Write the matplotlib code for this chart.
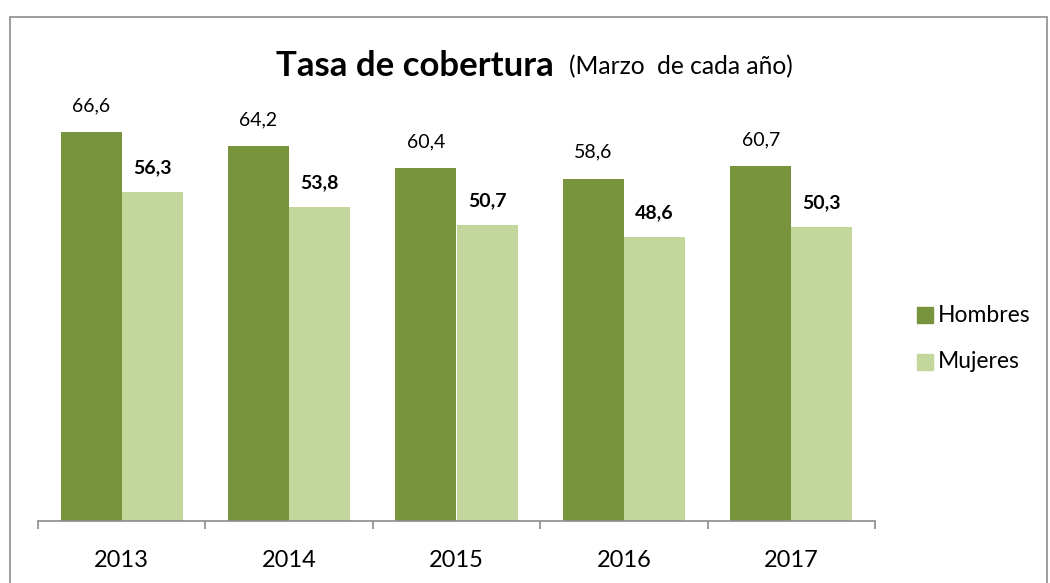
import matplotlib
matplotlib.use("Agg")
import matplotlib.pyplot as plt
import numpy as np
from matplotlib.patches import Rectangle

years = ["2013", "2014", "2015", "2016", "2017"]
hombres = [66.6, 64.2, 60.4, 58.6, 60.7]
mujeres = [56.3, 53.8, 50.7, 48.6, 50.3]
series_names = ["Hombres", "Mujeres"]
colors = ["#77933C", "#C3D69B"]

plt.rcParams['font.family'] = ['Lato', 'DejaVu Sans']

W, H = 1050, 583
fig = plt.figure(figsize=(W / 100, H / 100), dpi=100)

# outer frame
fig.patches.append(Rectangle((10 / W, -0.05), (1047 - 10) / W, (H - 17) / H + 0.05,
                             transform=fig.transFigure, fill=False,
                             edgecolor="#8C8C8C", linewidth=1.2))

left, right, bottom, top = 38, 875, 521, 112
ax = fig.add_axes([left / W, (H - bottom) / H, (right - left) / W, (bottom - top) / H])
ymax = (bottom - top) / (389 / 66.6)

x = np.arange(len(years))
bw = 0.365
b1 = ax.bar(x - bw / 2, hombres, bw, color=colors[0], label=series_names[0])
b2 = ax.bar(x + bw / 2, mujeres, bw, color=colors[1], label=series_names[1])

ax.set_xlim(-0.5, len(years) - 0.5)
ax.set_ylim(0, ymax)
for s in ["left", "right", "top"]:
    ax.spines[s].set_visible(False)
ax.spines["bottom"].set_color("#8C8C8C")
ax.spines["bottom"].set_linewidth(1.2)
ax.set_yticks([])
ax.set_xticks(x)
ax.set_xticklabels(years, fontsize=17)
ax.tick_params(axis="x", which="major", length=0, pad=21)
ax.set_xticks(np.arange(-0.5, len(years)), minor=True)
ax.tick_params(axis="x", which="minor", length=6, color="#8C8C8C", width=1.2)

for rect, v in zip(b1, hombres):
    ax.annotate(f"{v:.1f}".replace(".", ","), (rect.get_x() + rect.get_width() / 2, v),
                xytext=(0, 19), textcoords="offset points", ha="center", va="center",
                fontsize=14)
for rect, v in zip(b2, mujeres):
    ax.annotate(f"{v:.1f}".replace(".", ","), (rect.get_x() + rect.get_width() / 2, v),
                xytext=(0, 17.5), textcoords="offset points", ha="center", va="center",
                fontsize=14, fontweight="bold")

fig.text(554 / W, 1 - 66 / H, "Tasa de cobertura", ha="right", va="center",
         fontsize=25, fontweight="bold")
fig.text(569 / W, 1 - 67 / H, "(Marzo  de cada año)", ha="left", va="center",
         fontsize=17.7)

# legend
for i, name in enumerate(series_names):
    yc = 315 + i * 47
    fig.patches.append(Rectangle((917 / W, 1 - (yc + 8) / H), 16 / W, 16 / H,
                                 transform=fig.transFigure, color=colors[i]))
    fig.text(938 / W, 1 - yc / H, name, ha="left", va="center", fontsize=16.5)

fig.savefig("out.png", dpi=100)
